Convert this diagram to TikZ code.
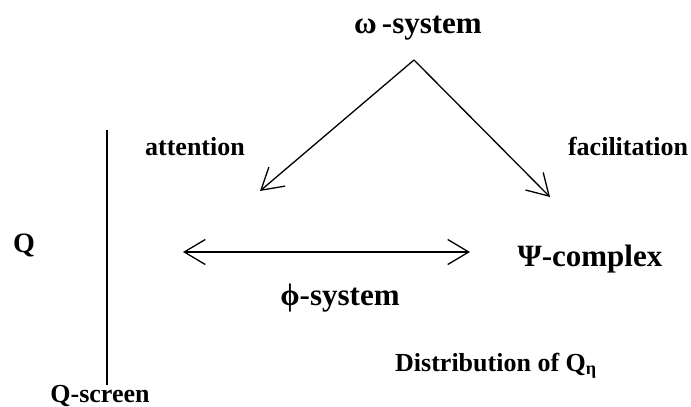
\documentclass[tikz,border=0pt]{standalone}
\usepackage{fontspec}
\setmainfont{Liberation Serif}
\usetikzlibrary{arrows.meta, positioning}

\begin{document}
\begin{tikzpicture}[
        x=1pt, y=-1pt,
        big/.style={font=\fontsize{31}{36}\selectfont\bfseries, inner sep=0pt, anchor=base},
        small/.style={font=\fontsize{26}{30}\selectfont\bfseries, inner sep=0pt, anchor=base},
        arrow/.style={-{Straight Barb[length=21pt, width=25pt, line width=1.3pt]}, line width=1.3pt},
        both/.style={{Straight Barb[length=21pt, width=25pt, line width=1.3pt]}-{Straight Barb[length=21pt, width=25pt, line width=1.3pt]}, line width=1.3pt},
        screen/.style={line width=1.3pt}
    ]
        \useasboundingbox (0,0) rectangle (691,407);

        % Nodes
        \node[big] (omega) at (418,33) {ω\,-system};
        \node[big] (psi) at (590,266) {Ψ-complex};
        \node[big] (phi) at (340,305) {ϕ-system};
        \node[small] (attention) at (195,155) {attention};
        \node[small] (facilitation) at (628,155) {facilitation};
        \node[small, font=\fontsize{28}{32}\selectfont\bfseries] (q) at (24,252) {Q};
        \node[small, anchor=base west] (distribution) at (395,371) {Distribution of Q\textsubscript{η}};
        \node[small] (qscreen) at (100,402) {Q-screen};

        % Points
        \coordinate (apex) at (414,60);
        \coordinate (attend) at (260,191);
        \coordinate (facil) at (550,197);
        \coordinate (left) at (183,252);
        \coordinate (right) at (470,252);
        \coordinate (screentop) at (107,130);
        \coordinate (screenbot) at (107,385);

        % Connections
        \draw[arrow] (apex) -- (attend);
        \draw[arrow] (apex) -- (facil);
        \draw[both] (left) -- (right);
        \draw[screen] (screentop) -- (screenbot);
    \end{tikzpicture}
\end{document}
